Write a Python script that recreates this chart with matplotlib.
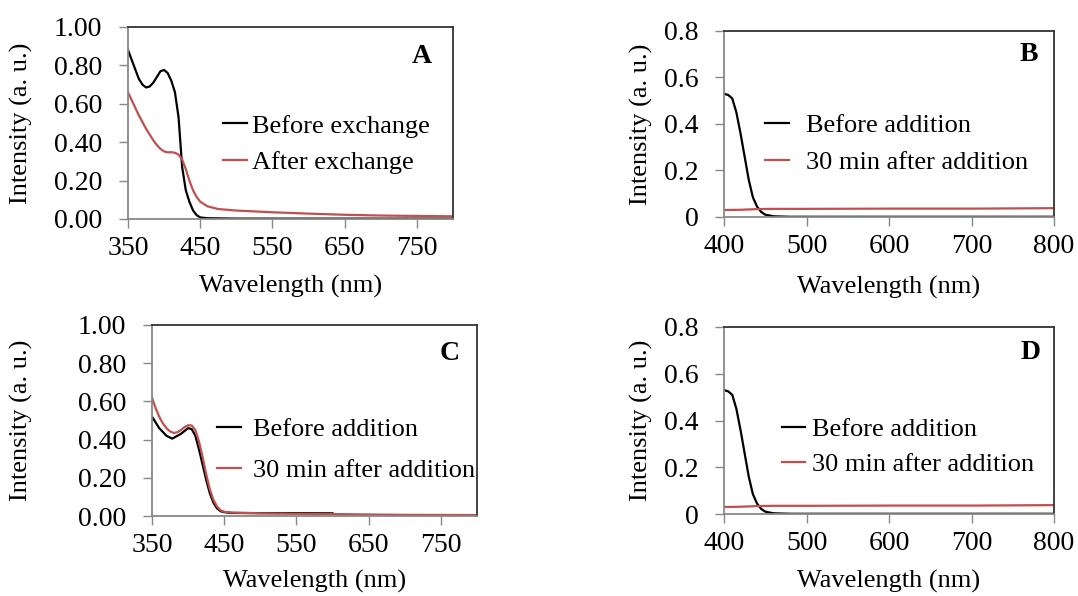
import matplotlib
matplotlib.use("Agg")
import matplotlib.pyplot as plt

plt.rcParams["font.family"] = ["Liberation Serif", "DejaVu Serif"]

RED = "#c0504d"

# Panel A
a_wl_before = [350, 355, 360, 365, 370, 375, 380, 385, 390, 395, 400, 405, 410, 415,
               420, 425, 430, 435, 440, 445, 450, 460, 480, 500, 600, 700, 800]
a_before = [0.88, 0.83, 0.78, 0.73, 0.70, 0.685, 0.69, 0.71, 0.74, 0.77, 0.776, 0.76,
            0.72, 0.66, 0.53, 0.27, 0.15, 0.09, 0.045, 0.02, 0.008, 0.004, 0.003,
            0.002, 0.002, 0.002, 0.002]
a_wl_after = [350, 355, 360, 365, 370, 375, 380, 385, 390, 395, 400, 405, 410, 415,
              420, 425, 430, 435, 440, 445, 450, 460, 475, 500, 550, 600, 650, 700,
              750, 800]
a_after = [0.66, 0.62, 0.58, 0.54, 0.505, 0.47, 0.44, 0.41, 0.385, 0.365, 0.352,
           0.347, 0.348, 0.345, 0.335, 0.31, 0.26, 0.20, 0.15, 0.115, 0.09, 0.066,
           0.052, 0.044, 0.035, 0.028, 0.022, 0.018, 0.016, 0.014]

# Panel B
b_wl_before = [400, 405, 410, 415, 420, 425, 430, 435, 440, 445, 450, 460, 480, 600, 800]
b_before = [0.53, 0.525, 0.51, 0.45, 0.36, 0.26, 0.16, 0.085, 0.045, 0.022, 0.01,
            0.003, 0.001, 0.001, 0.001]
b_wl_after = [400, 420, 440, 460, 500, 600, 700, 800]
b_after = [0.030, 0.031, 0.034, 0.035, 0.035, 0.036, 0.036, 0.038]

# Panel C
c_wl_before = [350, 360, 370, 378, 390, 400, 405, 410, 415, 420, 425, 430, 435, 440,
               445, 450, 460, 500, 550, 600]
c_before = [0.52, 0.46, 0.42, 0.405, 0.43, 0.46, 0.455, 0.42, 0.35, 0.27, 0.19, 0.12,
            0.07, 0.04, 0.025, 0.02, 0.016, 0.015, 0.015, 0.014]
c_wl_after = [350, 355, 360, 365, 370, 375, 380, 385, 390, 395, 400, 405, 410, 415,
              420, 425, 430, 435, 440, 445, 450, 460, 500, 600, 700, 800]
c_after = [0.62, 0.565, 0.52, 0.485, 0.46, 0.443, 0.435, 0.438, 0.45, 0.465, 0.475,
           0.474, 0.45, 0.39, 0.31, 0.22, 0.14, 0.085, 0.05, 0.03, 0.022, 0.018,
           0.014, 0.01, 0.006, 0.005]

# Panel D
d_wl_before = [400, 405, 410, 415, 420, 425, 430, 435, 440, 445, 450, 460, 480, 600, 800]
d_before = [0.53, 0.525, 0.51, 0.45, 0.36, 0.26, 0.16, 0.085, 0.045, 0.022, 0.01,
            0.003, 0.001, 0.001, 0.001]
d_wl_after = [400, 420, 440, 460, 500, 600, 700, 800]
d_after = [0.030, 0.031, 0.034, 0.035, 0.035, 0.036, 0.036, 0.038]

fig = plt.figure(figsize=(10.78, 5.96), dpi=100)
W, H = 1078, 596


def make_ax(left, top, right, bottom):
    return fig.add_axes([left / W, 1 - bottom / H, (right - left) / W, (bottom - top) / H])


panels = [
    dict(box=(128, 27, 453, 219), xlim=(350, 800), xt=[350, 450, 550, 650, 750],
         ylim=(0, 1.0), yt=[0, 0.2, 0.4, 0.6, 0.8, 1.0], yfmt="{:.2f}",
         series=[(a_wl_before, a_before, "black", "Before exchange"),
                 (a_wl_after, a_after, RED, "After exchange")],
         letter="A", lpos=(0.935, 0.844), ylab=-0.292, xlab=-0.29,
         leg=(0.292, 0.39), hl=0.9, htp=0.2, ls=0.5),
    dict(box=(724, 31, 1054, 217), xlim=(400, 800), xt=[400, 500, 600, 700, 800],
         ylim=(0, 0.8), yt=[0, 0.2, 0.4, 0.6, 0.8], yfmt="{:g}",
         series=[(b_wl_before, b_before, "black", "Before addition"),
                 (b_wl_after, b_after, RED, "30 min after addition")],
         letter="B", lpos=(0.952, 0.871), ylab=-0.215, xlab=-0.317,
         leg=(0.124, 0.392), hl=0.9, htp=0.65, ls=0.5),
    dict(box=(152, 325, 477, 516), xlim=(350, 800), xt=[350, 450, 550, 650, 750],
         ylim=(0, 1.0), yt=[0, 0.2, 0.4, 0.6, 0.8, 1.0], yfmt="{:.2f}",
         series=[(c_wl_before, c_before, "black", "Before addition"),
                 (c_wl_after, c_after, RED, "30 min after addition")],
         letter="C", lpos=(0.948, 0.853), ylab=-0.366, xlab=-0.283,
         leg=(0.2, 0.346), hl=0.9, htp=0.45, ls=0.65),
    dict(box=(724, 327, 1054, 514), xlim=(400, 800), xt=[400, 500, 600, 700, 800],
         ylim=(0, 0.8), yt=[0, 0.2, 0.4, 0.6, 0.8], yfmt="{:g}",
         series=[(d_wl_before, d_before, "black", "Before addition"),
                 (d_wl_after, d_after, RED, "30 min after addition")],
         letter="D", lpos=(0.958, 0.861), ylab=-0.215, xlab=-0.30,
         leg=(0.176, 0.358), hl=0.85, htp=0.3, ls=0.45),
]

for p in panels:
    ax = make_ax(*p["box"])
    for x, y, c, lab in p["series"]:
        ax.plot(x, y, color=c, lw=1.6, label=lab)
    ax.set_xlim(*p["xlim"])
    ax.set_ylim(*p["ylim"])
    ax.set_xticks(p["xt"])
    ax.set_yticks(p["yt"])
    ax.set_yticklabels([p["yfmt"].format(v) for v in p["yt"]])
    ax.tick_params(direction="out", length=6.5, width=1, color="#888888",
                   labelsize=20, colors="black")
    ax.tick_params(axis="y", pad=12)
    ax.tick_params(axis="x", pad=6)
    for s in ["left", "bottom"]:
        ax.spines[s].set_color("#888888")
        ax.spines[s].set_linewidth(1.3)
    for s in ["top", "right"]:
        ax.spines[s].set_color("#333333")
        ax.spines[s].set_linewidth(1.3)
    ax.set_xlabel("Wavelength (nm)", fontsize=19)
    ax.set_ylabel("Intensity (a. u.)", fontsize=19)
    ax.xaxis.set_label_coords(0.5, p["xlab"])
    ax.yaxis.set_label_coords(p["ylab"], 0.5)
    ax.text(p["lpos"][0], p["lpos"][1], p["letter"], transform=ax.transAxes,
            fontsize=20, fontweight="bold", ha="right", va="center")
    ax.legend(loc="center left", bbox_to_anchor=p["leg"], frameon=False,
              fontsize=19, borderpad=0, borderaxespad=0, handlelength=p["hl"],
              handletextpad=p["htp"], labelspacing=p["ls"])

fig.savefig("out.png", dpi=100)
